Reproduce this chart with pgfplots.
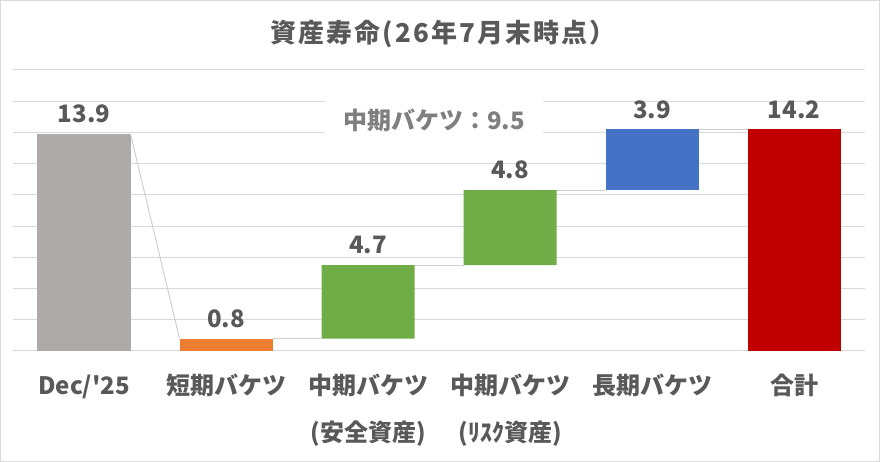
\documentclass[border=0pt]{standalone}
\usepackage{fontspec}
\setmainfont{Noto Sans CJK JP}
\newfontfamily\jp{Noto Sans CJK JP}
\newfontfamily\jptitle{Noto Sans CJK JP}[LetterSpace=8]
\usepackage{pgfplots}
\pgfplotsset{compat=1.18}
\definecolor{barGray}{HTML}{AEAAAA}
\definecolor{barOrange}{HTML}{ED7D31}
\definecolor{barGreen}{HTML}{70AD47}
\definecolor{barBlue}{HTML}{4472C4}
\definecolor{barRed}{HTML}{C00000}
\definecolor{txt}{HTML}{595959}
\definecolor{txtlight}{HTML}{7F7F7F}
\definecolor{gridc}{HTML}{D9D9D9}
\definecolor{connc}{HTML}{D0D0D0}
\begin{document}
\begin{tikzpicture}
\useasboundingbox (0,0) rectangle (880pt,462pt);
\fill[white] (0,0) rectangle (880pt,462pt);
\draw[gridc, line width=1pt] (0.5pt,0.5pt) rectangle (879.5pt,461.5pt);
\node[text=txt, font={\jptitle\fontsize{26}{30}\selectfont\bfseries}, anchor=center] at (443pt,428.5pt) {資産寿命(26年7月末時点）};
\begin{axis}[
  at={(13pt,111pt)}, anchor=south west, scale only axis,
  width=852pt, height=281pt,
  xmin=-0.5, xmax=5.5, ymin=0, ymax=18,
  ybar stacked, bar width=93pt,
  axis line style={draw=none},
  ytick={0,2,...,18}, yticklabels={}, ymajorgrids,
  grid style={draw=gridc, line width=1pt},
  major tick length=0pt,
  xtick={0,1,2,3,4,5},
  xticklabels={Dec/'25, 短期バケツ, {中期バケツ\\(安全資産)}, {中期バケツ\\(ﾘｽｸ資産)}, 長期バケツ, 合計},
  typeset ticklabels with strut,
  xticklabel style={anchor=north, align=center, inner sep=0pt, yshift=-10pt, text=txt, font={\jp\fontsize{24}{47}\selectfont\bfseries}},
  clip=false,
]
\addplot[fill=none, draw=none] coordinates {(0,0) (1,0) (2,0.8) (3,5.5) (4,10.3) (5,0)};
\addplot[fill=barGray, draw=none] coordinates {(0,13.9) (1,0) (2,0) (3,0) (4,0) (5,0)};
\addplot[fill=barOrange, draw=none] coordinates {(0,0) (1,0.8) (2,0) (3,0) (4,0) (5,0)};
\addplot[fill=barGreen, draw=none] coordinates {(0,0) (1,0) (2,4.7) (3,4.8) (4,0) (5,0)};
\addplot[fill=barBlue, draw=none] coordinates {(0,0) (1,0) (2,0) (3,0) (4,3.9) (5,0)};
\addplot[fill=barRed, draw=none] coordinates {(0,0) (1,0) (2,0) (3,0) (4,0) (5,14.2)};
\end{axis}
\begin{axis}[
  at={(13pt,111pt)}, anchor=south west, scale only axis,
  width=852pt, height=281pt,
  xmin=-0.5, xmax=5.5, ymin=0, ymax=18,
  hide axis, clip=false,
]
\addplot[connc, line width=1pt] coordinates {(0.3275,13.9) (0.6725,0.8)};
\addplot[connc, line width=1pt] coordinates {(1.3275,0.8) (1.6725,0.8)};
\addplot[connc, line width=1pt] coordinates {(2.3275,5.5) (2.6725,5.5)};
\addplot[connc, line width=1pt] coordinates {(3.3275,10.3) (3.6725,10.3)};
\addplot[connc, line width=1pt] coordinates {(4.3275,14.2) (4.6725,14.2)};
\addplot[draw=none, nodes near coords, point meta=explicit symbolic,
  nodes near coords style={anchor=center, yshift=20pt, text=txt, font={\jp\fontsize{24}{28}\selectfont\bfseries}}]
  coordinates {(0,13.9) [13.9] (1,0.8) [0.8] (2,5.5) [4.7] (3,10.3) [4.8] (4,14.2) [3.9] (5,14.2) [14.2]};
\node[fill=white, minimum width=218pt, minimum height=52pt, inner sep=0pt, text=txtlight, font={\jp\fontsize{24}{28}\selectfont\bfseries}] at (axis cs:2.465,14.77) {中期バケツ：9.5};
\end{axis}
\end{tikzpicture}
\end{document}
